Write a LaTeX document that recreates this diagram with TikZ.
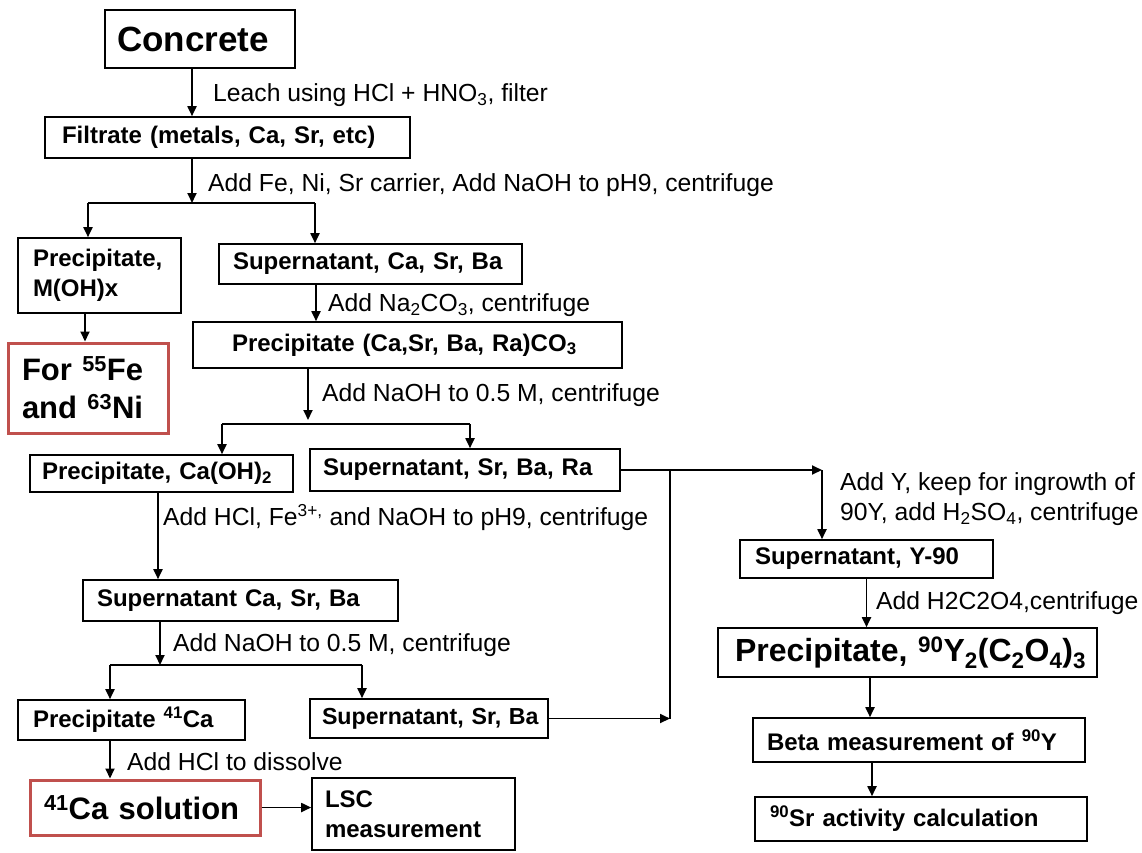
\documentclass[tikz,border=0pt]{standalone}
\usepackage{fontspec}
\setmainfont{Liberation Sans}
\usetikzlibrary{arrows.meta,calc}
\definecolor{boxred}{RGB}{192,80,77}

\begin{document}
\begin{tikzpicture}[x=1pt,y=-1pt,
  box/.style={draw, line width=1.6pt, inner ysep=0pt, align=left,
    font=\fontsize{24}{30}\selectfont\bfseries},
  bigbox/.style={box, font=\fontsize{32}{38}\selectfont\bfseries},
  redbox/.style={box, draw=boxred, line width=3pt,
    font=\fontsize{31}{38}\selectfont\bfseries},
  lbl/.style={anchor=west, inner sep=0pt, align=left,
    font=\fontsize{24.7}{30}\selectfont},
  arr/.style={line width=1.8pt, -{Triangle[length=10pt,width=9pt]}},
  ln/.style={line width=1.8pt}]
\useasboundingbox (0,0) rectangle (1142,852);

% ---- boxes ----
\node[box, line width=2.5pt, font=\fontsize{35}{40}\selectfont\bfseries,
  minimum width=190, minimum height=58, inner xsep=12, text width=166]
  (concrete) at (200,39) {Concrete};
\node[box, minimum width=365, minimum height=41, inner xsep=17, text width=331]
  (filt) at (227.5,137.5) {\mbox{Filtrate (metals, Ca, Sr, etc)}};
\node[box, minimum width=163, minimum height=75, inner xsep=15, text width=133]
  (pmoh) at (99.5,275.5) {Precipitate,\\M(OH)x};
\node[box, minimum width=303, minimum height=40, inner xsep=14, text width=275]
  (scsb) at (370.5,264) {\mbox{Supernatant, Ca, Sr, Ba}};
\node[redbox, minimum width=160, minimum height=90, inner xsep=14, text width=132]
  (fefe) at (88,388) {\mbox{For \textsuperscript{55}Fe}\\\mbox{and \textsuperscript{63}Ni}};
\node[box, minimum width=429, minimum height=46, inner xsep=39, text width=351]
  (pcarb) at (407.5,345) {\mbox{Precipitate (Ca,Sr, Ba, Ra)CO\textsubscript{3}}};
\node[box, minimum width=263, minimum height=37, inner xsep=12, text width=239]
  (pcaoh) at (161.5,473.5) {\mbox{Precipitate, Ca(OH)\textsubscript{2}}};
\node[box, minimum width=310, minimum height=42, inner xsep=13, text width=284]
  (ssbr) at (465,470) {\mbox{Supernatant, Sr, Ba, Ra}};
\node[box, minimum width=315, minimum height=41, inner xsep=14, text width=287]
  (scsb2) at (240.5,600.5) {\mbox{Supernatant Ca, Sr, Ba}};
\node[box, minimum width=227, minimum height=40, inner xsep=15, text width=197]
  (p41) at (131.5,720) {\mbox{Precipitate \textsuperscript{41}Ca}};
\node[box, font=\fontsize{23.2}{30}\selectfont\bfseries,
  minimum width=238, minimum height=39, inner xsep=12, text width=214]
  (ssb) at (429,718.5) {\mbox{Supernatant, Sr, Ba}};
\node[redbox, minimum width=230, minimum height=55, inner xsep=14, text width=202]
  (ca41) at (145,807.5) {\mbox{\textsuperscript{41}Ca solution}};
\node[box, minimum width=203, minimum height=72, inner xsep=13, text width=177]
  (lsc) at (413.5,814) {LSC\\measurement};
\node[box, minimum width=253, minimum height=38, inner xsep=15, text width=223]
  (sy90) at (866.5,559) {\mbox{Supernatant, Y-90}};
\node[bigbox, minimum width=379, minimum height=49, inner xsep=17, text width=345]
  (py) at (907.5,652.5)
  {\mbox{Precipitate, \textsuperscript{90}Y\textsubscript{2}(C\textsubscript{2}O\textsubscript{4})\textsubscript{3}}};
\node[box, minimum width=332, minimum height=44, inner xsep=14, text width=304]
  (beta) at (919,740) {\mbox{Beta measurement of \textsuperscript{90}Y}};
\node[box, minimum width=332, minimum height=44, inner xsep=15, text width=302]
  (sr90) at (921,819) {\mbox{\textsuperscript{90}Sr activity calculation}};

% ---- step labels ----
\node[lbl] (l1) at (213,95) {Leach using HCl + HNO\textsubscript{3}, filter};
\node[lbl] (l2) at (208,185) {Add Fe, Ni, Sr carrier, Add NaOH to pH9, centrifuge};
\node[lbl] (l3) at (328,305) {Add Na\textsubscript{2}CO\textsubscript{3}, centrifuge};
\node[lbl] (l4) at (322,395) {Add NaOH to 0.5 M, centrifuge};
\node[lbl] (l5) at (163,518) {Add HCl, Fe\textsuperscript{3+,} and NaOH to pH9, centrifuge};
\node[lbl] (l6) at (173,645) {Add NaOH to 0.5 M, centrifuge};
\node[lbl] (l7) at (127,762) {Add HCl to dissolve};
\node[lbl] (l8) at (840,499) {Add Y, keep for ingrowth of\\90Y, add H\textsubscript{2}SO\textsubscript{4}, centrifuge};
\node[lbl] (l9) at (876,603) {Add H2C2O4,centrifuge};

% ---- junction points ----
\coordinate (j1) at (192,203);
\coordinate (j1l) at (88,203);
\coordinate (j1r) at (315,203);
\coordinate (j2) at (308,424);
\coordinate (j2l) at (222,424);
\coordinate (j2r) at (470,424);
\coordinate (j3) at (160,665);
\coordinate (j3l) at (110,665);
\coordinate (j3r) at (362,665);
\coordinate (k1) at (822,470);
\coordinate (k2) at (670,470);

% ---- connectors ----
\draw[arr] ([xshift=-8]concrete.south) -- ([xshift=-8]concrete.south |- filt.north);
\draw[arr] (filt.south -| j1) -- (j1);
\draw[ln] (j1l) -- (j1r);
\draw[arr] (j1l) -- (j1l |- pmoh.north);
\draw[arr] (j1r) -- (j1r |- scsb.north);
\draw[arr] ([xshift=-14.5]pmoh.south) -- ([xshift=-14.5]pmoh.south |- fefe.north);
\draw[arr] ([xshift=-54.5]scsb.south) -- ([xshift=-54.5]scsb.south |- pcarb.north);
\draw[arr, shorten >=4pt] (pcarb.south -| j2) -- (j2);
\draw[ln] (j2l) -- (j2r);
\draw[arr] (j2l) -- (j2l |- pcaoh.north);
\draw[arr] (j2r) -- (j2r |- ssbr.north);
\draw[arr] ([xshift=-3.5]pcaoh.south) -- ([xshift=-3.5]pcaoh.south |- scsb2.north);
\draw[arr] (scsb2.south -| j3) -- (j3);
\draw[ln] (j3l) -- (j3r);
\draw[arr] (j3l) -- (j3l |- p41.north);
\draw[arr] (j3r) -- (j3r |- ssb.north);
\draw[arr] ([xshift=-21.5]p41.south) -- ([xshift=-21.5]p41.south |- ca41.north);
\draw[arr] (ca41.east) -- (ca41.east -| lsc.west);
\draw[arr] (ssbr.east) -- (k1);
\draw[arr] (k1) -- (k1 |- sy90.north);
\draw[ln] (k2) -- (k2 |- ssb.east);
\draw[arr] (ssb.east) -- (ssb.east -| k2);
\draw[arr] (sy90.south) -- (sy90.south |- py.north);
\draw[arr] ([xshift=-37.5]py.south) -- ([xshift=-37.5]py.south |- beta.north);
\draw[arr] ([xshift=-47]beta.south) -- ([xshift=-47]beta.south |- sr90.north);
\end{tikzpicture}
\end{document}
